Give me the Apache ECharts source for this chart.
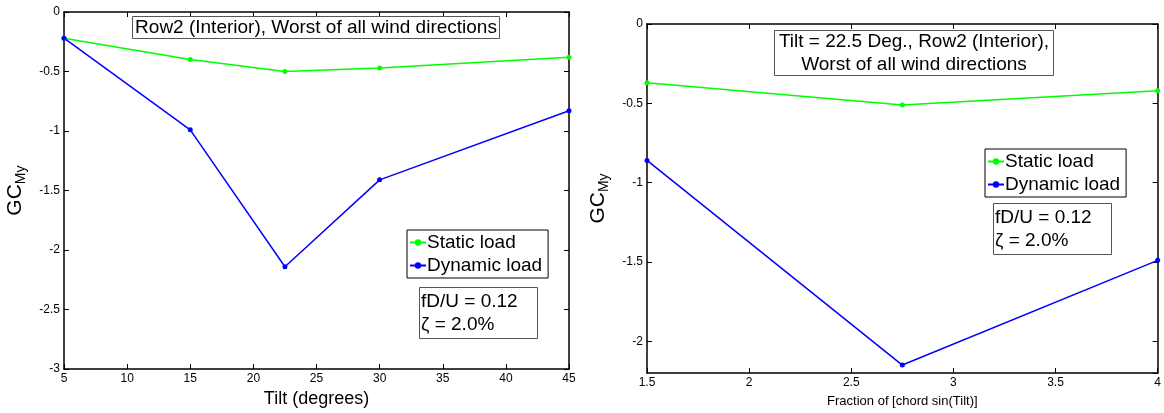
<!DOCTYPE html>
<html>
<head>
<meta charset="utf-8">
<script src="https://cdn.jsdelivr.net/npm/echarts@6/dist/echarts.min.js"></script>
<style>
  html, body { margin: 0; padding: 0; background: #fff; }
  #main { width: 1164px; height: 413px; }
</style>
</head>
<body>
<div id="main"></div>
<script>
// left plot: tilt angle
var tiltDeg = [5, 15, 22.5, 30, 45];
var tiltStatic = [-0.22, -0.40, -0.50, -0.47, -0.38];
var tiltDynamic = [-0.22, -0.99, -2.14, -1.41, -0.83];

// right plot: row spacing
var fraction = [1.5, 2.75, 4];
var fracStatic = [-0.37, -0.51, -0.42];
var fracDynamic = [-0.86, -2.15, -1.49];

var FONT = '"Liberation Sans", Arial, sans-serif';
var GREEN = '#00ff00';
var BLUE = '#0000ff';

function pairs(xs, ys) {
  return xs.map(function (x, i) { return [x, ys[i]]; });
}

function xAx(gridIndex, min, max, interval, name, nameSize, nameGap, top) {
  return {
    type: 'value', gridIndex: gridIndex, min: min, max: max, interval: interval,
    position: top ? 'top' : 'bottom',
    name: top ? '' : name, nameLocation: 'middle', nameGap: nameGap,
    nameTextStyle: { fontFamily: FONT, fontSize: nameSize, color: '#000' },
    axisLine: { show: true, onZero: false, lineStyle: { color: '#000', width: 1.5 } },
    axisTick: { show: true, inside: true, length: 5, lineStyle: { color: '#000' } },
    axisLabel: { show: !top, fontFamily: FONT, fontSize: 12, color: '#000', margin: 4 },
    splitLine: { show: false }
  };
}

function yAx(gridIndex, min, max, interval, right) {
  var ax = {
    type: 'value', gridIndex: gridIndex, min: min, max: max,
    position: right ? 'right' : 'left',
    name: right ? '' : '{a|GC}{b|My}', nameLocation: 'middle', nameGap: 36,
    nameTextStyle: {
      rich: {
        a: { fontFamily: FONT, fontSize: 21, color: '#000' },
        b: { fontFamily: FONT, fontSize: 14, color: '#000', padding: [11, 0, 0, 0] }
      }
    },
    axisLine: { show: true, onZero: false, lineStyle: { color: '#000', width: 1.5 } },
    axisTick: { show: true, inside: true, length: 5, lineStyle: { color: '#000' } },
    axisLabel: { show: !right, fontFamily: FONT, fontSize: 12, color: '#000', margin: 4, showMinLabel: interval ? true : false },
    splitLine: { show: false }
  };
  if (interval) ax.interval = interval; else ax.splitNumber = 5;
  return ax;
}

function lineSeries(name, color, data, xi, yi) {
  return {
    name: name, type: 'line', xAxisIndex: xi, yAxisIndex: yi, data: data,
    symbol: 'circle', symbolSize: 5,
    lineStyle: { color: color, width: 1.5 },
    itemStyle: { color: color },
    emphasis: { disabled: true }
  };
}

function boxTitle(text, left, top, align, pad) {
  return {
    text: text, left: left, top: top, textAlign: align,
    padding: pad, borderColor: '#555', borderWidth: 1, backgroundColor: '#fff',
    textStyle: { fontFamily: FONT, fontSize: 19, fontWeight: 'normal', color: '#000', lineHeight: 23 }
  };
}

function legendBox(left, top) {
  return {
    left: left, top: top, orient: 'vertical', itemGap: 4, itemWidth: 16, itemHeight: 8,
    padding: [3, 6, 3, 2], borderColor: '#000', borderWidth: 1, backgroundColor: '#fff',
    textStyle: { fontFamily: FONT, fontSize: 19, color: '#000', padding: [0, 0, 0, -4] },
    data: ['Static load', 'Dynamic load']
  };
}

var chart = echarts.init(document.getElementById('main'));

chart.setOption({
  animation: false,
  title: [
    boxTitle('Row2 (Interior), Worst of all wind directions', 313, 16, 'center', [0, 3, 0, 3]),
    boxTitle('Tilt = 22.5 Deg., Row2 (Interior),\nWorst of all wind directions', 909, 30, 'center', [0, 5, 0, 5]),
    boxTitle('fD/U = 0.12\nζ = 2.0%', 419, 287, 'left', [3, 20, 3, 2]),
    boxTitle('fD/U = 0.12\nζ = 2.0%', 993, 203, 'left', [3, 20, 3, 2])
  ],
  legend: [legendBox(407, 230), legendBox(985, 149)],
  grid: [
    { left: 64, top: 12, width: 505, height: 359 },
    { left: 647, top: 24, width: 513, height: 354 }
  ],
  xAxis: [
    xAx(0, 5, 45, 5, 'Tilt (degrees)', 18, 20, false),
    xAx(0, 5, 45, 5, '', 18, 20, true),
    xAx(1, 1.5, 4, 0.5, 'Fraction of [chord sin(Tilt)]', 13, 22, false),
    xAx(1, 1.5, 4, 0.5, '', 13, 22, true)
  ],
  yAxis: [
    yAx(0, -3, 0, 0.5, false),
    yAx(0, -3, 0, 0.5, true),
    yAx(1, -2.2, 0, null, false),
    yAx(1, -2.2, 0, null, true)
  ],
  series: [
    lineSeries('Static load', GREEN, pairs(tiltDeg, tiltStatic), 0, 0),
    lineSeries('Dynamic load', BLUE, pairs(tiltDeg, tiltDynamic), 0, 0),
    lineSeries('Static load', GREEN, pairs(fraction, fracStatic), 2, 2),
    lineSeries('Dynamic load', BLUE, pairs(fraction, fracDynamic), 2, 2)
  ]
});
</script>
</body>
</html>
